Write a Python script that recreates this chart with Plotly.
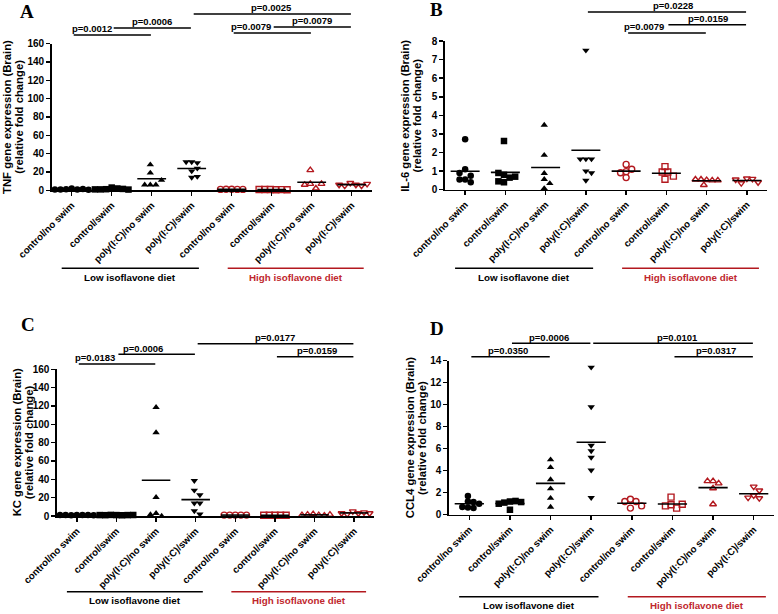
import numpy as np
import plotly.graph_objects as go

W, H = 778, 614

# ---------------- data ----------------
categories = ["control/no swim", "control/swim", "poly(I:C)/no swim", "poly(I:C)/swim",
              "control/no swim", "control/swim", "poly(I:C)/no swim", "poly(I:C)/swim"]
diet_groups = ["Low isoflavone diet", "High isoflavone diet"]

tnf_values = [
    [2.0, 1.0, 1.2, 1.5, 0.8, 0.6, 1.0],
    [3.0, 2.0, 1.2, 1.5, 1.0, 0.8, 1.0],
    [28, 19, 6, 6, 6, 11],
    [31, 30, 31, 21, 24, 14, 15],
    [1.2, 1.0, 1.1, 1.0, 1.0],
    [0.8, 0.6, 0.9, 0.7, 0.8, 0.6],
    [22, 7, 2, 6, 7],
    [8, 6, 5, 5, 6, 7],
]
il6_values = [
    [2.72, 1.1, 0.55, 0.4, 0.55, 0.75, 0.9],
    [2.62, 0.8, 0.65, 0.4, 0.45, 0.7, 0.9],
    [3.48, 1.86, 0.88, 0.56, 0.34, 0.07],
    [7.5, 1.65, 1.65, 1.65, 1.0, 0.9, 0.5],
    [1.36, 0.97, 1.1, 0.91, 0.65],
    [1.24, 0.95, 0.95, 0.73, 0.56],
    [0.52, 0.5, 0.55, 0.25, 0.5, 0.55],
    [0.6, 0.58, 0.35, 0.4, 0.55],
]
kc_values = [
    [1.0, 1.2, 0.8, 1.0, 1.1, 0.9, 1.0],
    [1.0, 0.8, 1.2, 1.0, 0.9, 1.1, 1.0],
    [118.5, 91, 20.4, 3, 0, 1.5],
    [38.5, 28, 23, 14, 14, 5.5, 2],
    [1.0, 1.0, 1.0, 1.0, 1.0],
    [0.8, 0.8, 0.8, 0.8, 0.8],
    [2.0, 1.0, 1.5, 0.5, 1.0, 1.5],
    [5, 3, 2, 4, 3, 3],
]
ccl4_values = [
    [1.7, 1.2, 1.15, 0.65, 0.6, 0.7, 1.0],
    [1.2, 1.25, 1.1, 0.45, 1.15, 1.0],
    [5.0, 4.3, 3.2, 2.36, 1.5, 0.7],
    [13.4, 9.8, 6.3, 5.8, 5.2, 4.05, 1.55],
    [1.4, 1.2, 1.2, 0.6, 0.8],
    [1.6, 0.9, 0.6, 0.8, 0.95],
    [3.05, 2.85, 3.05, 2.4, 0.95],
    [2.55, 2.2, 1.75, 1.5, 1.55],
]

tnf_pvalues = ["p=0.0012", "p=0.0006", "p=0.0025", "p=0.0079", "p=0.0079"]
tnf_pairs = [(0, 2), (1, 3), (3, 7), (4, 6), (5, 7)]
il6_pvalues = ["p=0.0228", "p=0.0159", "p=0.0079"]
il6_pairs = [(3, 7), (5, 7), (4, 6)]
kc_pvalues = ["p=0.0183", "p=0.0006", "p=0.0177", "p=0.0159"]
kc_pairs = [(0, 2), (1, 3), (3, 7), (5, 7)]
ccl4_pvalues = ["p=0.0350", "p=0.0006", "p=0.0101", "p=0.0317"]
ccl4_pairs = [(0, 2), (1, 3), (3, 7), (5, 7)]

# ---------------- layout / style ----------------
panels = [
    dict(letter="A", values=tnf_values, pvals=tnf_pvalues, pairs=tnf_pairs,
         title="TNF gene expression (Brain)", ymax=160, dtick=20,
         box=(51.7, 371.7, 43.6, 190.3),
         bracket_y=[35, 28, 14, 33, 27], label_x=[0.5, 2.0, 5.0, 4.48, 6.0],
         title_x=(7.0, 18.7), letter_xy=(27, 11), group_y=268.3),
    dict(letter="B", values=il6_values, pvals=il6_pvalues, pairs=il6_pairs,
         title="IL-6 gene expression (Brain)", ymax=8, dtick=1,
         box=(445, 767, 41, 189.7),
         bracket_y=[12, 24.7, 33], label_x=[5.16, 6.04, 4.45],
         title_x=(405.5, 417.2), letter_xy=(436, 9), group_y=268.3),
    dict(letter="C", values=kc_values, pvals=kc_pvalues, pairs=kc_pairs,
         title="KC gene expression (Brain)", ymax=160, dtick=20,
         box=(57, 374, 369.3, 516),
         bracket_y=[364, 354.3, 343.7, 356.7], label_x=[0.45, 1.68, 5.0, 6.05],
         title_x=(16.7, 28.7), letter_xy=(28, 324.5), group_y=591.7),
    dict(letter="D", values=ccl4_values, pvals=ccl4_pvalues, pairs=ccl4_pairs,
         title="CCL4 gene expression (Brain)", ymax=14, dtick=2,
         box=(449, 774, 360.7, 514.7),
         bracket_y=[356.7, 343.3, 343.3, 356.7], label_x=[0.96, 1.95, 5.13, 6.08],
         title_x=(409.5, 421.2), letter_xy=(436.5, 328), group_y=596.7),
]

FONT = "Arial, 'Liberation Sans', sans-serif"
SERIF = "'Times New Roman', 'Liberation Serif', serif"
BLACK = "#000000"
RED = "#b3191f"
RED_TEXT = "#c0272d"
sym_low = ["circle", "square", "triangle-up", "triangle-down"]
sym_high = ["circle-open", "square-open", "triangle-up-open", "triangle-down-open"]


def swarm(vals, px_per_y, d=5.6):
    """GraphPad-like horizontal spreading of points with similar values (pixel offsets)."""
    placed = []
    offs = []
    cands = [0.0]
    for k in range(1, 40):
        cands += [k * d / 2, -k * d / 2]
    for v in vals:
        y = v * px_per_y
        for o in cands:
            if all((o - px) ** 2 + (y - py) ** 2 >= (d * 0.98) ** 2 for px, py in placed):
                break
        placed.append((o, y))
        offs.append(o)
    shift = (max(offs) + min(offs)) / 2 if offs else 0
    return [o - shift * 0.5 for o in offs]


def px2paper(px):
    return px / W


def py2paper(py):
    return 1 - py / H


fig = go.Figure()
shapes, annotations = [], []
layout_axes = {}

for i, p in enumerate(panels):
    n = i + 1
    xa = "x" if n == 1 else f"x{n}"
    ya = "y" if n == 1 else f"y{n}"
    left, right, top, bottom = p["box"]
    px_per_cat = (right - left) / 8
    px_per_y = (bottom - top) / p["ymax"]

    for c, vals in enumerate(p["values"]):
        high = c >= 4
        offs = swarm(vals, px_per_y)
        xs = [c + o / px_per_cat for o in offs]
        fig.add_trace(go.Scatter(
            x=xs, y=vals, mode="markers", xaxis=xa, yaxis=ya, cliponaxis=False,
            hoverinfo="y",
            marker=dict(symbol=(sym_high if high else sym_low)[c % 4],
                        size=6 if high else 6.5,
                        color=RED if high else BLACK,
                        line=dict(width=1.4, color=RED) if high else dict(width=0))))
        m = float(np.mean(vals))
        fig.add_trace(go.Scatter(
            x=[c - 0.36, c + 0.36], y=[m, m], mode="lines", xaxis=xa, yaxis=ya,
            cliponaxis=False, hoverinfo="skip",
            line=dict(color=BLACK, width=1.6)))

    xkey = "xaxis" if n == 1 else f"xaxis{n}"
    ykey = "yaxis" if n == 1 else f"yaxis{n}"
    layout_axes[xkey] = dict(
        domain=[px2paper(left), px2paper(right)], anchor=ya, range=[-0.5, 7.5], automargin=False,
        tickmode="array", tickvals=list(range(8)), ticktext=categories, tickangle=-45,
        showline=True, linecolor=BLACK, linewidth=1.6, ticks="outside", ticklen=4,
        tickwidth=1.5, tickcolor=BLACK, showgrid=False, zeroline=False,
        tickfont=dict(family=FONT, size=9.7, color=BLACK, weight="bold"))
    layout_axes[ykey] = dict(
        domain=[py2paper(bottom), py2paper(top)], anchor=xa, range=[0, p["ymax"]],
        automargin=False, tick0=0, dtick=p["dtick"],
        showline=True, linecolor=BLACK, linewidth=1.6, ticks="outside", ticklen=4,
        tickwidth=1.5, tickcolor=BLACK, showgrid=False, zeroline=False,
        tickfont=dict(family=FONT, size=10, color=BLACK, weight="bold"))

    xd = f"{xa} domain"

    def cx(cat):
        return (cat + 0.5) / 8

    # significance brackets
    for (a, b), txt, ly, lx in zip(p["pairs"], p["pvals"], p["bracket_y"], p["label_x"]):
        shapes.append(dict(type="line", xref=xd, yref="paper",
                           x0=cx(a + 0.05), x1=cx(b - 0.02), y0=py2paper(ly), y1=py2paper(ly),
                           line=dict(color=BLACK, width=1.5)))
        annotations.append(dict(xref=xd, yref="paper", x=cx(lx), y=py2paper(ly - 6.2),
                                text=txt, showarrow=False, xanchor="center", yanchor="middle",
                                font=dict(family=FONT, size=9.5, color=BLACK, weight="bold")))

    # diet group lines and labels
    gy = p["group_y"]
    for (g0, g1), label, col, tcol in zip([(-0.25, 3.18), (3.9, 7.3)], diet_groups,
                                          [BLACK, RED], [BLACK, RED_TEXT]):
        shapes.append(dict(type="line", xref=xd, yref="paper", x0=cx(g0), x1=cx(g1),
                           y0=py2paper(gy), y1=py2paper(gy), line=dict(color=col, width=1.5)))
        annotations.append(dict(xref=xd, yref="paper", x=cx((g0 + g1) / 2), y=py2paper(gy + 9),
                                text=label, showarrow=False, xanchor="center", yanchor="middle",
                                font=dict(family=FONT, size=9.8, color=tcol, weight="bold")))

    # y-axis title (two lines)
    yc = py2paper((top + bottom) / 2)
    for tx, txt in zip(p["title_x"], [p["title"], "(relative fold change)"]):
        annotations.append(dict(xref="paper", yref="paper", x=px2paper(tx), y=yc, text=txt,
                                textangle=-90, showarrow=False, xanchor="center", yanchor="middle",
                                font=dict(family=FONT, size=11.3, color=BLACK, weight="bold")))

    # panel letter
    lx, ly = p["letter_xy"]
    annotations.append(dict(xref="paper", yref="paper", x=px2paper(lx), y=py2paper(ly),
                            text=p["letter"], showarrow=False, xanchor="center", yanchor="middle",
                            font=dict(family=SERIF, size=19, color=BLACK, weight="bold")))

fig.update_layout(
    width=W, height=H, margin=dict(l=0, r=0, t=0, b=0, pad=0, autoexpand=False),
    paper_bgcolor="white", plot_bgcolor="white", showlegend=False, hovermode=False,
    shapes=shapes, annotations=annotations, **layout_axes)

# place the figure flush with the window's top-left corner (no default page margin)
fig.write_html("out.html",
               config={"displayModeBar": False, "staticPlot": True},
               post_script="document.body.style.margin='0px';document.body.style.padding='0px';")
